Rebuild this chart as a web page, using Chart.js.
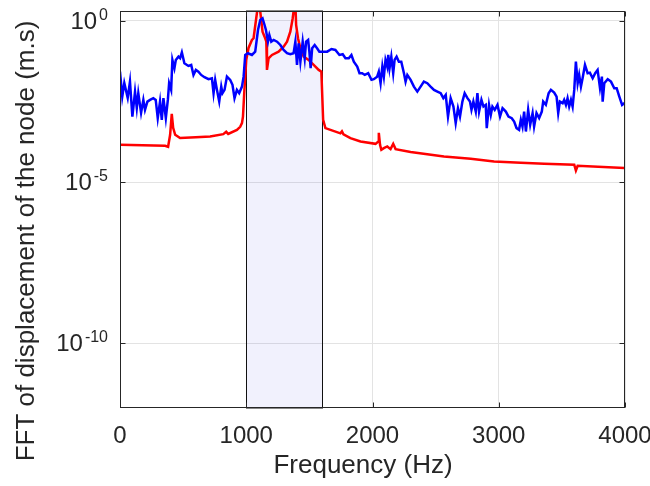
<!DOCTYPE html>
<html>
<head>
<meta charset="utf-8">
<script src="https://cdn.jsdelivr.net/npm/chart.js@4.4.1/dist/chart.umd.min.js"></script>
<style>
  html, body { margin: 0; padding: 0; background: #fff; }
  #wrap { width: 650px; height: 486px; }
</style>
</head>
<body>
<div id="wrap"><canvas id="myChart"></canvas></div>
<script>
const freqBlue = [
  0, 18, 34, 61, 79, 98, 119, 133, 145, 167,
  185, 198, 217, 238, 264, 283, 299, 317, 331, 344,
  363, 379, 389, 405, 415, 431, 442, 463, 476, 490,
  510, 542, 564, 582, 601, 621, 643, 669, 701, 728,
  741, 754, 768, 786, 802, 812, 828, 847, 873, 891,
  907, 926, 944, 966, 979, 992, 1013, 1045, 1071, 1093,
  1111, 1129, 1145, 1156, 1172, 1183, 1198, 1217, 1244, 1270,
  1296, 1323, 1349, 1375, 1389, 1402, 1415, 1429, 1447, 1463,
  1474, 1490, 1500, 1510, 1522, 1542, 1561, 1579, 1606, 1641,
  1675, 1706, 1738, 1764, 1786, 1812, 1833, 1852, 1879, 1897,
  1918, 1939, 1966, 1992, 2010, 2037, 2050, 2064, 2078, 2090,
  2103, 2117, 2125, 2135, 2149, 2164, 2175, 2191, 2209, 2228,
  2249, 2262, 2276, 2302, 2328, 2355, 2381, 2407, 2434, 2460,
  2487, 2514, 2540, 2561, 2580, 2598, 2619, 2641, 2659, 2677,
  2693, 2712, 2730, 2752, 2772, 2784, 2799, 2818, 2831, 2844,
  2863, 2879, 2897, 2905, 2923, 2937, 2950, 2968, 2990, 3010,
  3030, 3056, 3077, 3103, 3122, 3141, 3161, 3175, 3188, 3201,
  3215, 3233, 3249, 3268, 3280, 3299, 3320, 3341, 3352, 3373,
  3395, 3413, 3439, 3458, 3471, 3484, 3506, 3518, 3532, 3545,
  3558, 3572, 3585, 3598, 3611, 3625, 3637, 3651, 3664, 3683,
  3704, 3722, 3744, 3764, 3783, 3802, 3817, 3823, 3836, 3863,
  3889, 3915, 3934, 3955, 3977, 3995, 4000
];
const fftBlue = [
  2.65e-2, 4.46e-3, 1.18e-2, 4.06e-3, 1.30e-2, 1.07e-3, 6.37e-3, 2.0e-3, 5.68e-3, 1.40e-3,
  3.52e-3, 1.73e-3, 3.12e-3, 3.52e-3, 3.98e-3, 3.52e-3, 9.57e-4, 3.12e-3, 8.49e-4, 3.98e-3,
  9.57e-4, 3.52e-3, 1.16e-2, 7.19e-3, 6.09e-2, 3.37e-2, 6.09e-2, 7.7e-2, 6.87e-2, 0.105,
  4.81e-2, 3.97e-2, 4.26e-2, 2.09e-2, 2.99e-2, 2.65e-2, 2.09e-2, 1.78e-2, 1.54e-2, 1.65e-2,
  5.68e-3, 1.47e-2, 7.19e-3, 3.12e-3, 9.09e-3, 5.68e-3, 7.19e-3, 1.85e-2, 1.47e-2, 1.03e-2,
  3.98e-3, 7.19e-3, 5.68e-3, 9.09e-3, 1.85e-2, 8.69e-2, 9.81e-2, 8.69e-2, 0.11, 0.515,
  1.05, 1.19, 0.736, 0.515, 0.224, 0.361, 0.224, 0.253, 0.224, 0.177,
  0.124, 9.81e-2, 9.14e-2, 9.81e-2, 0.224, 4.26e-2, 0.2, 5.39e-2, 0.224, 6.87e-2,
  0.224, 0.253, 0.11, 3.37e-2, 0.14, 0.177, 0.14, 0.11, 0.11, 0.11,
  0.133, 0.124, 8.69e-2, 9.14e-2, 6.87e-2, 6.87e-2, 8.69e-2, 5.39e-2, 3.78e-2, 2.36e-2,
  2.36e-2, 2.09e-2, 2.36e-2, 1.47e-2, 1.54e-2, 1.85e-2, 2.65e-2, 1.16e-2, 3.78e-2, 1.85e-2,
  6.09e-2, 3.78e-2, 8.69e-2, 3.37e-2, 7.7e-2, 2.36e-2, 6.09e-2, 7.7e-2, 5.39e-2, 5.39e-2,
  2.36e-2, 1.3e-2, 2.09e-2, 1.47e-2, 9.09e-3, 6.37e-3, 9.09e-3, 1.3e-2, 1.16e-2, 9.09e-3,
  7.19e-3, 6.37e-3, 5.68e-3, 3.98e-3, 5.03e-3, 1.07e-3, 3.98e-3, 2.19e-3, 6.71e-4, 1.95e-3,
  1.07e-3, 3.12e-3, 5.68e-3, 3.98e-3, 3.12e-3, 1.73e-3, 3.12e-3, 1.53e-3, 5.68e-3, 1.53e-3,
  3.52e-3, 2.19e-3, 2.47e-3, 4.7e-4, 2.47e-3, 1.21e-3, 2.19e-3, 1.73e-3, 2.47e-3, 1.07e-3,
  1.95e-3, 1.53e-3, 1.07e-3, 9.57e-4, 7.52e-4, 4.7e-4, 4.16e-4, 8.49e-4, 5.26e-4, 1.53e-3,
  3.69e-4, 1.73e-3, 5.94e-4, 1.37e-3, 5.26e-4, 1.37e-3, 9.57e-4, 1.53e-3, 3.12e-3, 2.47e-3,
  5.68e-3, 7.19e-3, 5.93e-3, 4.46e-3, 1.37e-3, 3.12e-3, 2.79e-3, 3.52e-3, 2.47e-3, 3.98e-3,
  2.19e-3, 3.52e-3, 2.19e-3, 7.19e-3, 5.39e-2, 1.16e-2, 2.09e-2, 9.09e-3, 1.65e-2, 4.26e-2,
  2.36e-2, 2.46e-2, 1.65e-2, 2.36e-2, 2.99e-2, 8.11e-3, 1.85e-2, 3.12e-3, 1.16e-2, 1.54e-2,
  1.3e-2, 8.11e-3, 8.11e-3, 4.46e-3, 2.47e-3, 2.79e-3, 2.79e-3
];
const freqRed = [
  0, 357, 381, 397, 410, 421, 437, 476, 600, 714,
  818, 841, 857, 926, 952, 966, 974, 984, 1000, 1018,
  1045, 1058, 1079, 1093, 1099, 1111, 1129, 1145, 1159, 1164,
  1177, 1204, 1256, 1296, 1323, 1349, 1368, 1381, 1385, 1395,
  1410, 1429, 1455, 1494, 1534, 1574, 1595, 1609, 1627, 1667,
  1746, 1758, 1770, 1825, 1905, 2024, 2044, 2050, 2060, 2070,
  2090, 2117, 2143, 2164, 2183, 2302, 2566, 2778, 2963, 3175,
  3360, 3598, 3611, 3625, 3995, 4000
];
const fftRed = [
  1.43e-4, 1.33e-4, 1.24e-4, 2.92e-4, 1.3e-3, 4.8e-4, 2.92e-4, 2.31e-4, 2.45e-4, 2.58e-4,
  3.06e-4, 3.61e-4, 3.1e-4, 4.16e-4, 5.15e-4, 6.71e-4, 1.07e-3, 5.68e-3, 6.09e-2, 0.143,
  0.253, 0.286, 1.19, 3.06, 10, 1.9, 0.457, 0.32, 0.224, 2.99e-2,
  6.87e-2, 8.69e-2, 0.11, 0.157, 0.224, 0.457, 1.19, 3.06, 10, 0.736,
  0.286, 0.14, 7.7e-2, 6.09e-2, 4.26e-2, 2.99e-2, 2.65e-2, 8.49e-4, 4.7e-4, 4.16e-4,
  3.24e-4, 3.74e-4, 3.02e-4, 2.31e-4, 1.81e-4, 1.53e-4, 1.77e-4, 3.36e-4, 1.4e-4, 1.0e-4,
  1.13e-4, 1.27e-4, 1.05e-4, 1.53e-4, 1.05e-4, 8.5e-5, 6.21e-5, 5.27e-5, 4.35e-5, 3.98e-5,
  3.7e-5, 3.44e-5, 2.29e-5, 3.2e-5, 2.72e-5, 2.72e-5
];

const xTicks = [0, 1000, 2000, 3000, 4000];
const yTicks = [1e-10, 1e-5, 1];
const bandFrom = 1000, bandTo = 1600;
const xTitle = 'Frequency (Hz)';
const yTitle = 'FFT of displacement of the node (m.s)';

const FONT = '"Liberation Sans", Arial, sans-serif';
const AXIS = '#262626';

const toXY = (xs, ys) => xs.map((f, i) => ({ x: f, y: ys[i] }));

// shaded band + box, inward ticks, superscript labels
const matlabLook = {
    id: 'matlabLook',
    beforeDatasetsDraw(chart) {
        const { ctx, chartArea: a, scales: { x } } = chart;
        const x0 = Math.round(x.getPixelForValue(bandFrom)) + 0.5;
        const x1 = Math.round(x.getPixelForValue(bandTo)) + 0.5;
        ctx.save();
        ctx.fillStyle = 'rgba(0, 0, 220, 0.055)';
        ctx.fillRect(x0, a.top, x1 - x0, a.bottom - a.top);
        ctx.strokeStyle = '#111';
        ctx.lineWidth = 1;
        ctx.strokeRect(x0, a.top, x1 - x0, a.bottom - a.top);
        ctx.restore();
    },
    afterDraw(chart) {
        const { ctx, chartArea: a, scales: { x, y } } = chart;
        const L = Math.round(a.left) + 0.5, R = Math.round(a.right) - 0.5;
        const T = Math.round(a.top) + 0.5, B = Math.round(a.bottom) - 0.5;
        ctx.save();
        ctx.strokeStyle = AXIS;
        ctx.lineWidth = 1;
        ctx.strokeRect(L, T, R - L, B - T);
        ctx.beginPath();
        xTicks.forEach(v => {
            const px = Math.round(x.getPixelForValue(v)) + 0.5;
            ctx.moveTo(px, B); ctx.lineTo(px, B - 5);
            ctx.moveTo(px, T); ctx.lineTo(px, T + 5);
        });
        yTicks.forEach(v => {
            const py = Math.round(y.getPixelForValue(v)) + 0.5;
            ctx.moveTo(L, py); ctx.lineTo(L + 5, py);
            ctx.moveTo(R, py); ctx.lineTo(R - 5, py);
        });
        ctx.stroke();

        // y tick labels as 10^n
        ctx.fillStyle = AXIS;
        ctx.textBaseline = 'alphabetic';
        ctx.textAlign = 'left';
        const right = a.left - 12;
        yTicks.forEach(v => {
            const py = y.getPixelForValue(v);
            const e = String(Math.round(Math.log10(v)));
            ctx.font = '16px ' + FONT;
            const ew = ctx.measureText(e).width;
            ctx.fillText(e, right - ew, py - 1);
            ctx.font = '24px ' + FONT;
            const bw = ctx.measureText('10').width;
            ctx.fillText('10', right - ew - bw - 2, py + 8);
        });

        // axis titles
        ctx.font = '26px ' + FONT;
        ctx.textAlign = 'center';
        ctx.textBaseline = 'middle';
        ctx.fillText(xTitle, 363, 466);
        ctx.translate(27, 241);
        ctx.rotate(-Math.PI / 2);
        ctx.fillText(yTitle, 0, 0);
        ctx.restore();
    }
};

const ctx = document.getElementById('myChart').getContext('2d');
const myChart = new Chart(ctx, {
    type: 'line',
    data: {
        datasets: [{
            label: 'measured',
            data: toXY(freqBlue, fftBlue),
            borderColor: '#0000ff',
            borderWidth: 2.5,
            pointRadius: 0,
            tension: 0,
            clip: 0
        }, {
            label: 'model',
            data: toXY(freqRed, fftRed),
            borderColor: '#ff0000',
            borderWidth: 2.5,
            pointRadius: 0,
            tension: 0,
            clip: 0
        }]
    },
    options: {
        responsive: true,
        maintainAspectRatio: false,
        animation: false,
        events: [],
        layout: { padding: { left: 0, top: 11, right: 25, bottom: 0 } },
        plugins: { legend: { display: false }, tooltip: { enabled: false } },
        scales: {
            x: {
                type: 'linear',
                min: 0,
                max: 4000,
                afterBuildTicks: s => { s.ticks = xTicks.map(v => ({ value: v })); },
                afterFit: s => { s.height = 78; s.paddingLeft = 0; s.paddingRight = 0; },
                ticks: {
                    color: AXIS,
                    font: { family: FONT, size: 24 },
                    padding: 14,
                    maxRotation: 0,
                    callback: v => String(v)
                },
                grid: { color: '#e3e3e3', drawTicks: false },
                border: { display: false }
            },
            y: {
                type: 'logarithmic',
                min: 1e-12,
                max: 2,
                afterBuildTicks: s => { s.ticks = yTicks.map(v => ({ value: v })); },
                afterFit: s => { s.width = 120; },
                ticks: { display: false },
                grid: { color: '#e3e3e3', drawTicks: false },
                border: { display: false }
            }
        }
    },
    plugins: [matlabLook]
});
</script>
</body>
</html>
